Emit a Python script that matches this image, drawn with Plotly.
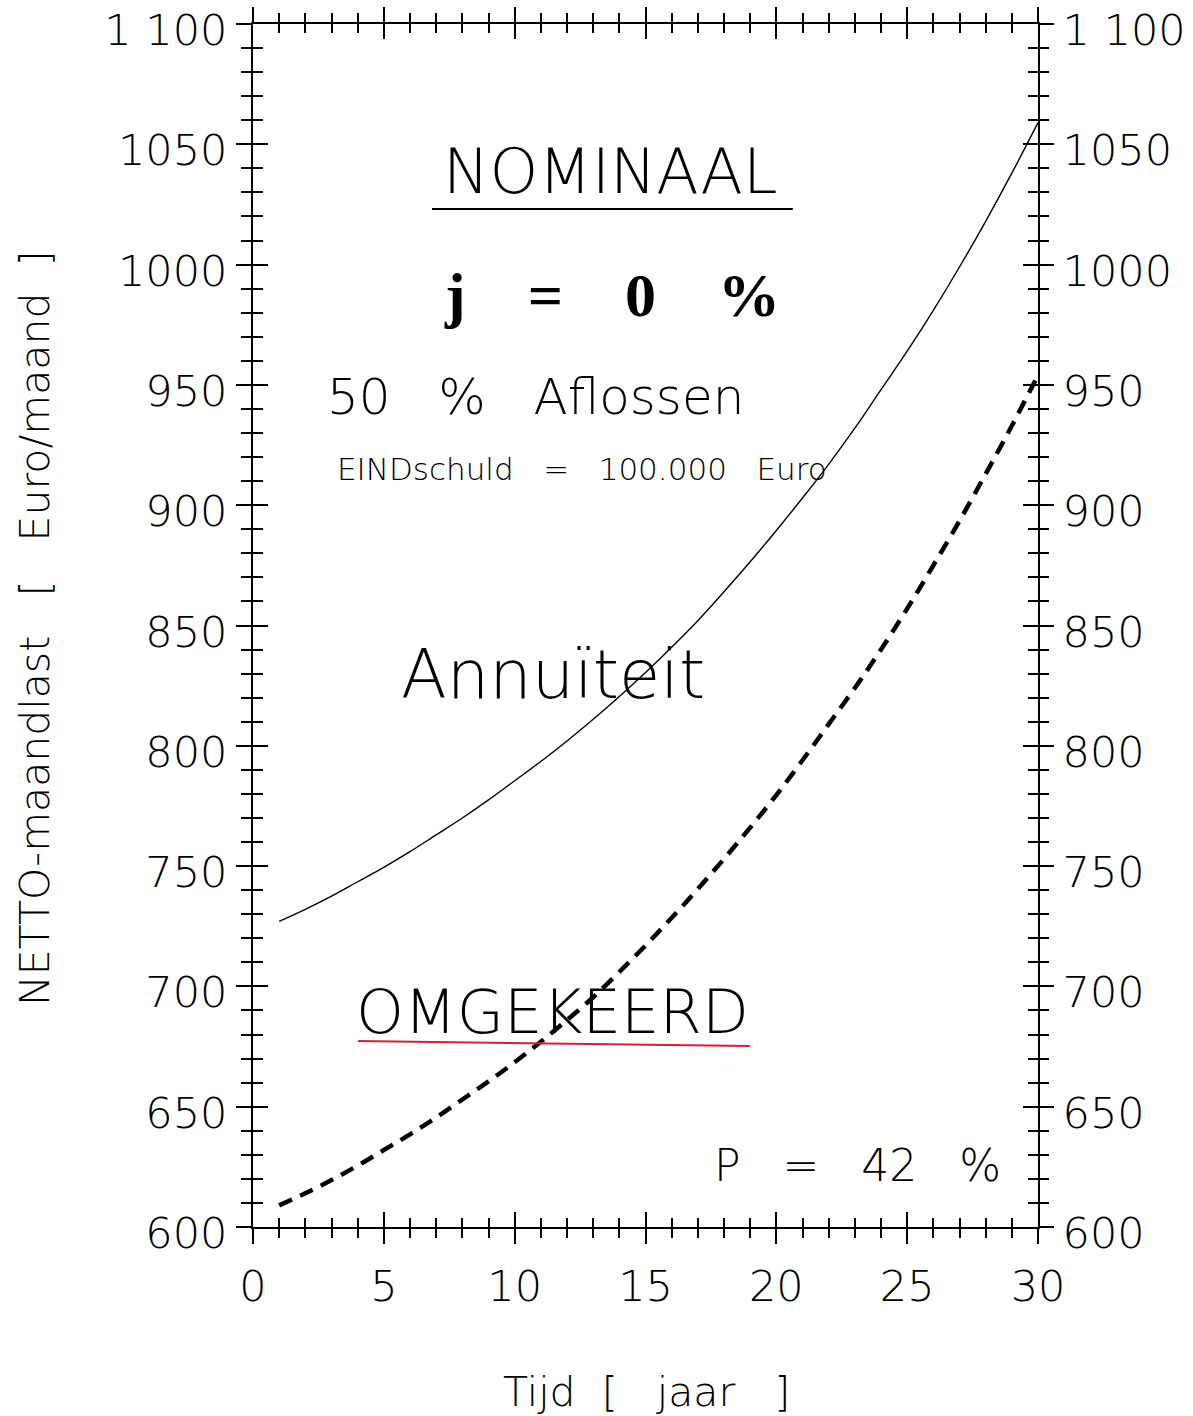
import plotly.graph_objects as go

# ---- data ----
years = list(range(1, 31))
annuiteit = [727, 732, 737.5, 743.5, 749.5, 756, 763, 770, 777.5, 785.5,
             793.5, 802, 811, 820.5, 830.5, 841, 852, 864, 876.5, 889.5,
             903, 917, 932, 948, 964, 981, 999, 1018, 1038, 1059]
omgekeerd = [609, 614, 619.5, 625.5, 632, 638.5, 645.5, 653, 660.5, 668.5,
             677, 686, 695.5, 706, 717, 728.5, 740.5, 753, 766, 779.5,
             794, 809, 824, 840, 857, 875, 893.5, 913, 933, 954]
x_ticks = [0, 5, 10, 15, 20, 25, 30]
y_ticks = [600, 650, 700, 750, 800, 850, 900, 950, 1000, 1050, 1100]
y_ticklabels = ["600", "650", "700", "750", "800", "850", "900", "950", "1000", "1050", "1 100"]

FONT = "DejaVu Sans"
NB = "\u00a0"
W, H = 1193, 1416
L, R, T, B = 253, 155, 24, 189
pw, ph = W - L - R, H - T - B

fig = go.Figure()
fig.add_trace(go.Scatter(x=years, y=annuiteit, mode="lines",
                         line=dict(color="black", width=1.4, shape="spline"),
                         showlegend=False, hoverinfo="skip"))
fig.add_trace(go.Scatter(x=years, y=omgekeerd, mode="lines",
                         line=dict(color="black", width=4.5, dash="14px,9px", shape="spline"),
                         showlegend=False, hoverinfo="skip"))
# helper traces for the overlay axes
fig.add_trace(go.Scatter(x=[0, 30], y=[600, 1100], xaxis="x2", yaxis="y2", mode="lines",
                         line=dict(width=0), showlegend=False, hoverinfo="skip", opacity=0))
fig.add_trace(go.Scatter(x=[0, 30], y=[600, 1100], xaxis="x", yaxis="y3", mode="lines",
                         line=dict(width=0), showlegend=False, hoverinfo="skip", opacity=0))

tickfont = dict(family=FONT, size=43, color="black", weight=200)
common_x = dict(range=[0, 30], showgrid=False, zeroline=False, linecolor="black", linewidth=2,
                tickcolor="black", tickwidth=2, tickmode="array", tickvals=x_ticks,
                automargin=False, ticklabeloverflow="allow")
common_y = dict(range=[600, 1100], showgrid=False, zeroline=False, linecolor="black", linewidth=2,
                tickcolor="black", tickwidth=2, tickmode="array", tickvals=y_ticks,
                automargin=False, ticklabeloverflow="allow")

fig.update_layout(
    width=W, height=H,
    margin=dict(l=L, r=R, t=T, b=B, autoexpand=False),
    paper_bgcolor="white", plot_bgcolor="white",
    xaxis=dict(**common_x, showline=True, mirror="ticks", ticks="outside", ticklen=15,
               ticktext=[str(v) for v in x_ticks], tickfont=tickfont, ticklabelstandoff=5,
               minor=dict(dtick=1, ticks="outside", ticklen=9, tickwidth=2, tickcolor="black")),
    xaxis2=dict(**common_x, overlaying="x", side="bottom", anchor="y", showline=False,
                mirror="ticks", ticks="inside", ticklen=15, showticklabels=False,
                minor=dict(dtick=1, ticks="inside", ticklen=9, tickwidth=2, tickcolor="black")),
    yaxis=dict(**common_y, showline=True, mirror=True, ticks="outside", ticklen=15,
               ticktext=y_ticklabels, tickfont=tickfont, ticklabelshift=6,
               minor=dict(dtick=10, ticks="outside", ticklen=10, tickwidth=2, tickcolor="black")),
    yaxis2=dict(**common_y, overlaying="y", side="left", anchor="x2", showline=False,
                mirror="ticks", ticks="inside", ticklen=15, showticklabels=False,
                minor=dict(dtick=10, ticks="inside", ticklen=10, tickwidth=2, tickcolor="black")),
    yaxis3=dict(**common_y, overlaying="y", side="right", anchor="x", showline=False,
                ticks="outside", ticklen=15, ticktext=y_ticklabels, tickfont=tickfont,
                ticklabelshift=6,
                minor=dict(dtick=10, ticks="outside", ticklen=10, tickwidth=2, tickcolor="black")),
)

def ann(text, x, y, size, family=FONT, weight=200, color="black", pixel=False, angle=0):
    xref, yref = "x", "y"
    if pixel:
        x = (x - L) / pw
        y = 1 - (y - T) / ph
        xref, yref = "paper", "paper"
    fig.add_annotation(text=text, x=x, y=y, xref=xref, yref=yref, showarrow=False,
                       xanchor="center", yanchor="middle", textangle=angle,
                       font=dict(family=family, size=size, color=color, weight=weight))

ann("NOMINAAL", 13.64, 1038.5, 62)
ann(f"j{NB*4}={NB*4}0{NB*4}%", 13.72, 987.5, 62, family="Liberation Serif", weight=700)
ann(f"50{NB*3}%{NB*3}Aflossen", 10.81, 945, 50)
ann(f"EINDschuld{NB*3}={NB*3}100.000{NB*3}Euro", 12.57, 915, 31)
ann("Annuïteit", 11.46, 829.4, 67)
ann("OMGEKEERD", 11.43, 689.4, 61)
ann(f"P{NB*3}={NB*3}42{NB*3}%", 23.12, 625.4, 44)
ann(f"NETTO-maandlast{NB*3}[{NB*3}Euro/maand{NB*2}]", 35, 628, 41, pixel=True, angle=-90)
ann(f"Tijd{NB*2}[{NB*3}jaar{NB*3}]", 646, 1392, 41, pixel=True)

fig.add_shape(type="line", x0=6.84, x1=20.63, y0=1023.1, y1=1023.1, xref="x", yref="y",
              line=dict(color="black", width=2))
fig.add_shape(type="line", x0=4.01, x1=18.99, y0=677.3, y1=675.2, xref="x", yref="y",
              line=dict(color="#d4203c", width=2))

fig.write_html("out.html")
